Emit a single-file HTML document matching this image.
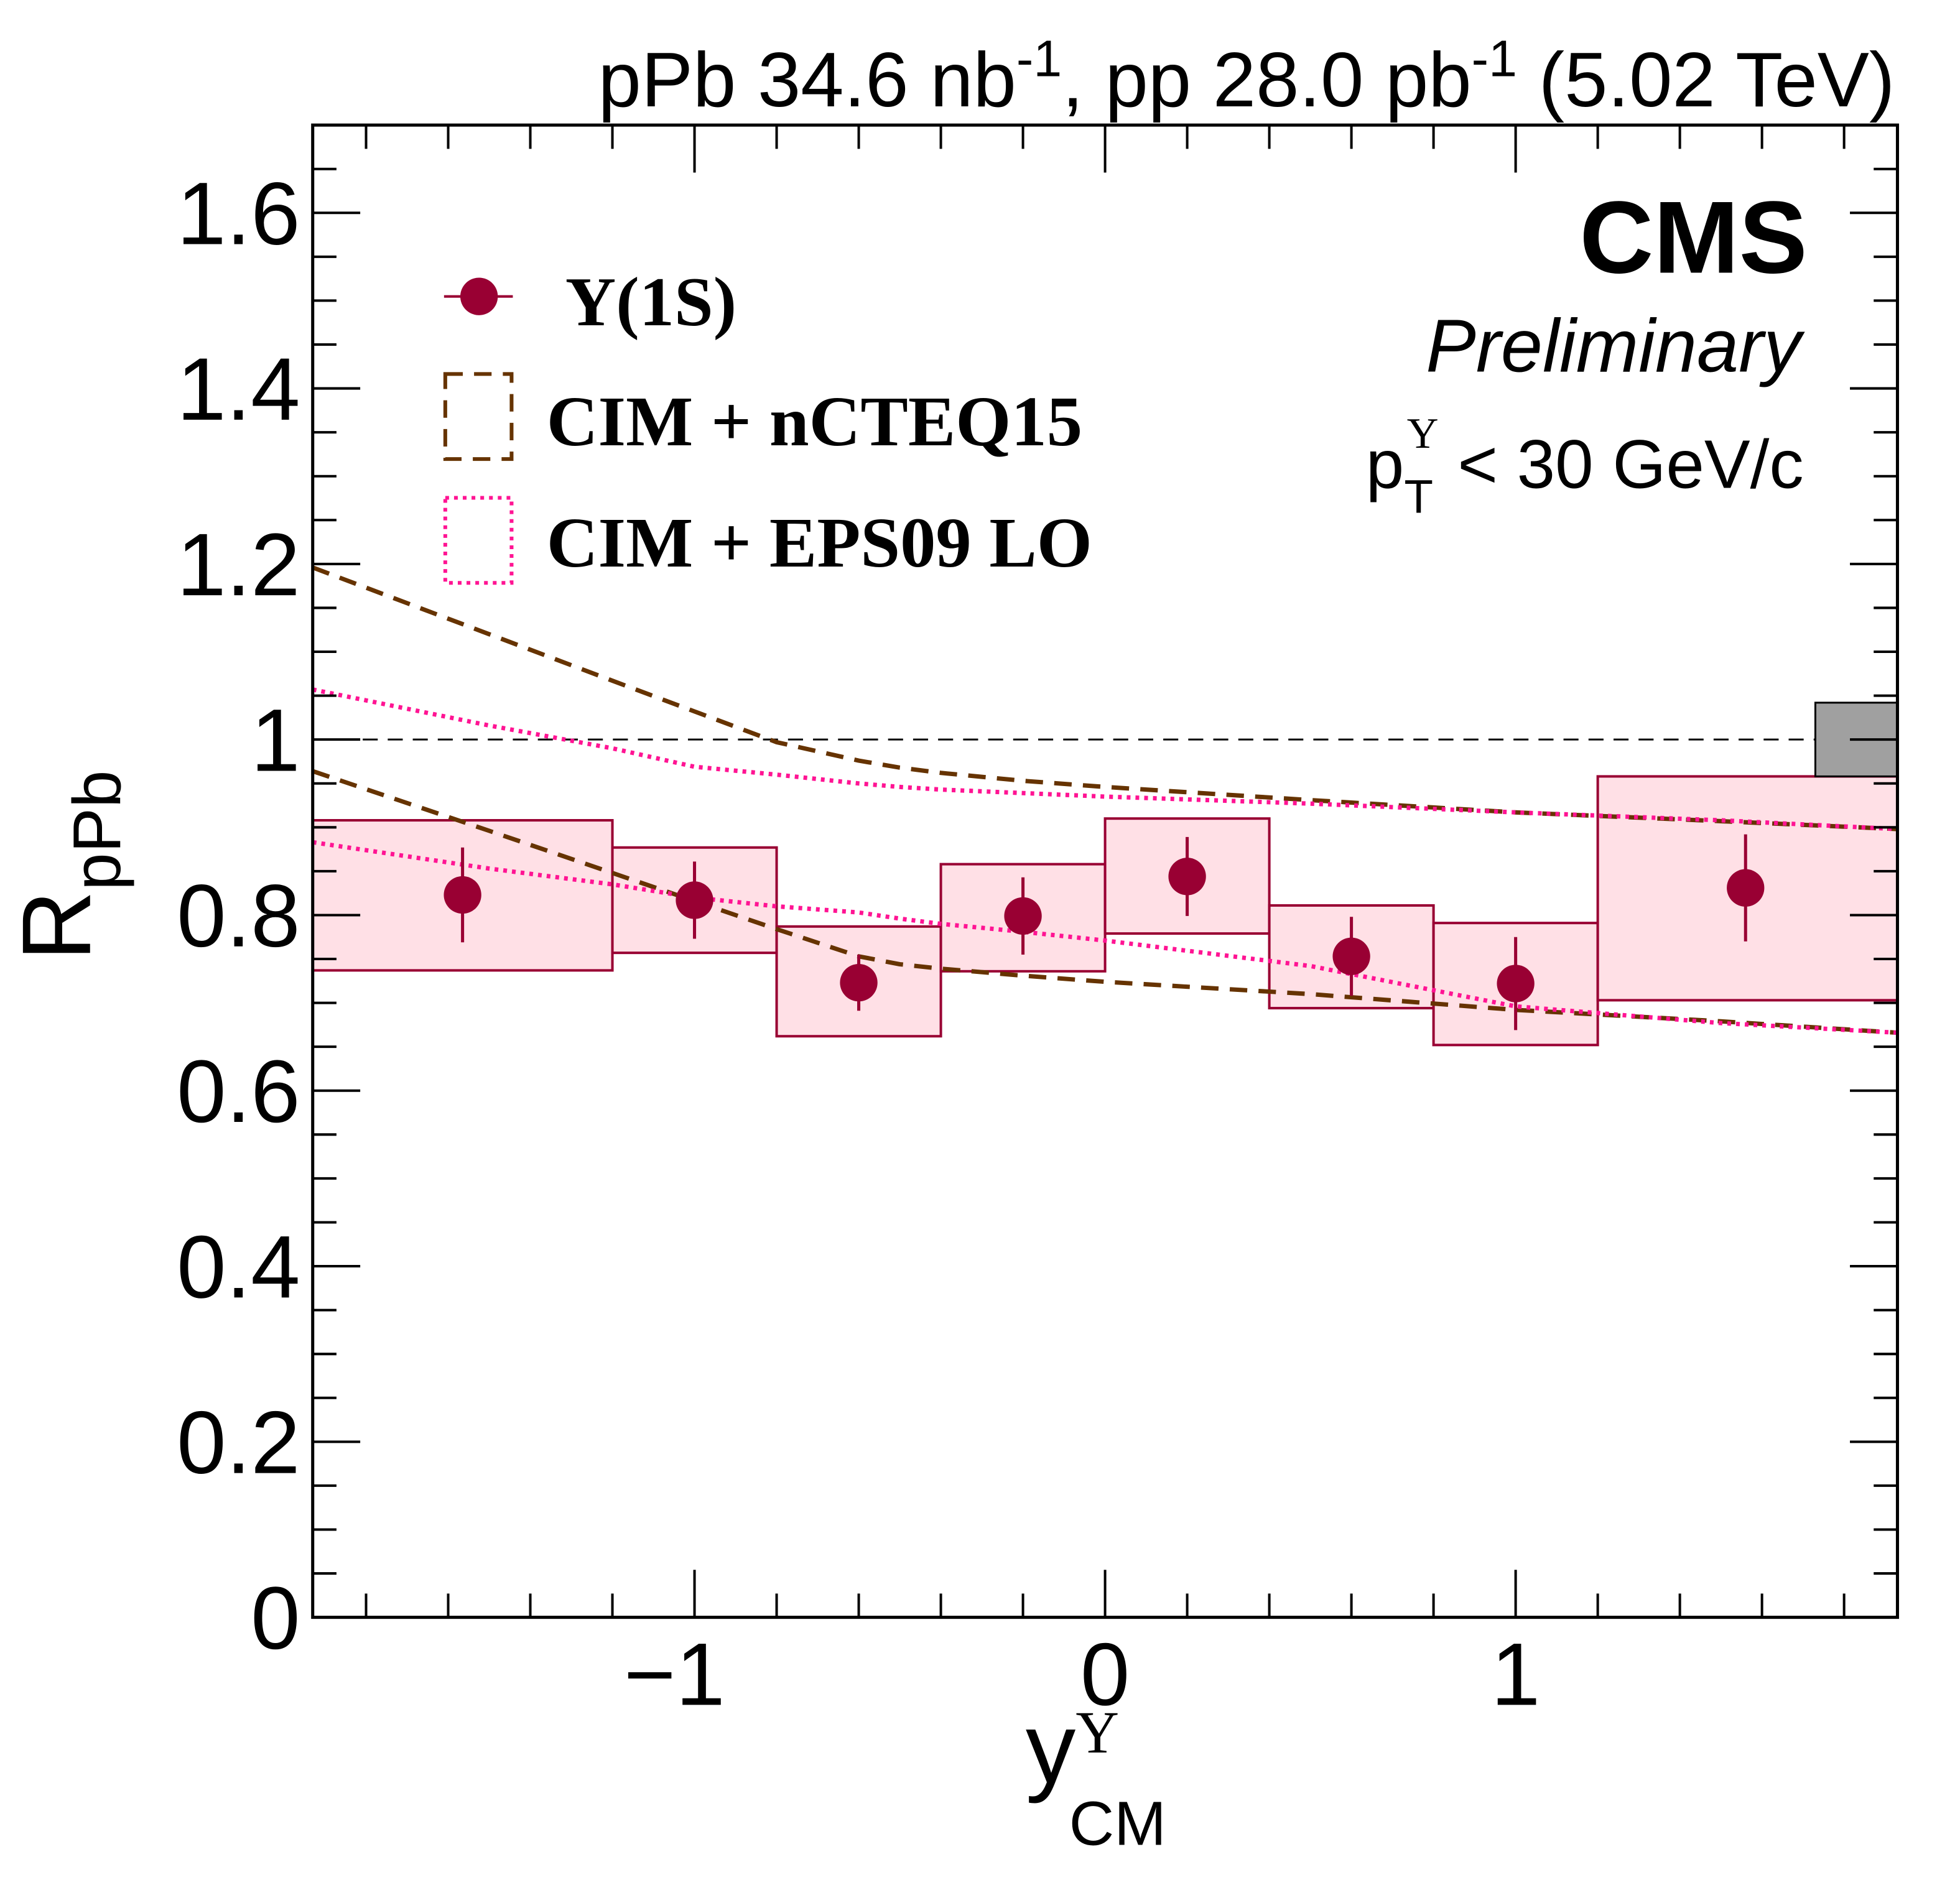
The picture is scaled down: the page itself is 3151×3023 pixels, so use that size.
<!DOCTYPE html>
<html><head><meta charset="utf-8"><style>
html,body{margin:0;padding:0;background:#fff}
svg{display:block}
text{font-family:"Liberation Sans",sans-serif}
</style></head><body>
<svg id="chart" xmlns="http://www.w3.org/2000/svg" width="3151" height="3023" viewBox="0 0 1567 1503" preserveAspectRatio="none">
<g id="boxes"></g>
<g id="curves"></g>
<g id="points"></g>
<g id="axes"></g>
<text x="1515" y="85" text-anchor="end" font-size="62">pPb 34.6 nb<tspan dy="-24" font-size="41">-1</tspan><tspan dy="24">, pp 28.0 pb</tspan><tspan dy="-24" font-size="41">-1</tspan><tspan dy="24"> (5.02 TeV)</tspan></text>
<text x="1445" y="218" text-anchor="end" font-size="82" font-weight="bold">CMS</text>
<text x="1440" y="297" text-anchor="end" font-size="60" font-style="italic">Preliminary</text>
<text x="1442" y="390" text-anchor="end" font-size="55">p<tspan dy="20" font-size="38">T</tspan><tspan dx="-21" dy="-52" font-size="35" style="font-family:'Liberation Serif',serif">Υ</tspan><tspan dy="32"> &lt; 30 GeV/c</tspan></text>
<g>
<line x1="355" y1="237" x2="410" y2="237" stroke="#990033" stroke-width="2"/>
<circle cx="383" cy="237" r="15" fill="#990033"/>
<text x="452" y="260" font-size="56" font-weight="bold" style="font-family:'Liberation Serif',serif">Υ(1S)</text>
<rect x="356" y="299" width="53" height="68" fill="none" stroke="#663300" stroke-width="3" stroke-dasharray="14,9"/>
<text x="437" y="356" font-size="57" font-weight="bold" style="font-family:'Liberation Serif',serif">CIM + nCTEQ15</text>
<rect x="356" y="398" width="53" height="68" fill="none" stroke="#ff1493" stroke-width="3" stroke-dasharray="3,4"/>
<text x="437" y="453" font-size="57" font-weight="bold" style="font-family:'Liberation Serif',serif">CIM + EPS09 LO</text>
</g>
<text transform="translate(72,692) rotate(-90)" text-anchor="middle" font-size="78">R<tspan dy="24" font-size="54">pPb</tspan></text>
<text x="820" y="1425" font-size="80">y<tspan dy="-24" font-size="48" style="font-family:'Liberation Serif',serif">Υ</tspan><tspan dx="-40" dy="74" font-size="50">CM</tspan></text>
</svg>
<script>
const binEdges=[-1.93,-1.2,-0.8,-0.4,0,0.4,0.8,1.2,1.93];
const xPts=[-1.565,-1.0,-0.6,-0.2,0.2,0.6,1.0,1.56];
const vals=[0.823,0.817,0.723,0.799,0.844,0.753,0.722,0.831];
const statErr=[0.054,0.044,0.032,0.044,0.045,0.045,0.053,0.061];
const systHi=[0.908,0.877,0.787,0.858,0.91,0.811,0.791,0.958];
const systLo=[0.737,0.757,0.662,0.736,0.779,0.694,0.652,0.703];
const globalUnc=[0.958,1.042];
const curveX=[-1.93,-1.5,-1.2,-1.0,-0.8,-0.6,-0.5,-0.4,-0.2,0,0.5,1.0,1.5,1.93];
const ncteqHi=[1.196,1.12,1.067,1.032,0.997,0.976,0.968,0.962,0.953,0.946,0.931,0.917,0.907,0.898];
const ncteqLo=[0.964,0.896,0.848,0.816,0.784,0.753,0.744,0.739,0.731,0.724,0.71,0.692,0.679,0.666];
const epsHi=[1.057,1.016,0.99,0.969,0.96,0.95,0.946,0.943,0.939,0.935,0.927,0.917,0.908,0.898];
const epsLo=[0.883,0.853,0.835,0.82,0.81,0.803,0.796,0.79,0.781,0.771,0.742,0.696,0.677,0.666];
const yTicks=[0,0.2,0.4,0.6,0.8,1,1.2,1.4,1.6];
const yTickLabels=["0","0.2","0.4","0.6","0.8","1","1.2","1.4","1.6"];
const xTicks=[-1,0,1];
const xTickLabels=["\u22121","0","1"];
const X0=250,X1=1517,Y0=1293,Y1=100,XMIN=-1.93,XMAX=1.93,YMIN=0,YMAX=1.7;
const sx=v=>X0+(v-XMIN)/(XMAX-XMIN)*(X1-X0);
const sy=v=>Y0-(v-YMIN)/(YMAX-YMIN)*(Y0-Y1);
const NS="http://www.w3.org/2000/svg";
function mk(tag,attrs,parent){const e=document.createElementNS(NS,tag);for(const k in attrs)e.setAttribute(k,attrs[k]);parent.appendChild(e);return e;}
const boxes=document.getElementById('boxes'),curves=document.getElementById('curves'),points=document.getElementById('points'),axes=document.getElementById('axes');
let ref=mk('line',{x1:X0,x2:X1,y1:sy(1),y2:sy(1),stroke:'#000','stroke-width':1.5,'stroke-dasharray':'12,8'},boxes);


for(let i=0;i<vals.length;i++){
 const r=mk('rect',{x:sx(binEdges[i]),y:sy(systHi[i]),width:sx(binEdges[i+1])-sx(binEdges[i]),height:sy(systLo[i])-sy(systHi[i]),fill:'#ffe0e6',stroke:'#990033','stroke-width':2},boxes);
 
 
}
let g=mk('rect',{x:sx(1.73),y:sy(globalUnc[1]),width:X1-sx(1.73),height:sy(globalUnc[0])-sy(globalUnc[1]),fill:'#a0a0a0',stroke:'#000','stroke-width':1.5},boxes);


function curve(ys,color,dash,name){
 const d=curveX.map((x,i)=>(i?'L':'M')+sx(x)+','+sy(ys[i])).join(' ');
 const p=mk('path',{d:d,fill:'none',stroke:color,'stroke-width':3.5,'stroke-dasharray':dash,'stroke-linejoin':'round'},curves);
 
 
}
curve(ncteqHi,'#663300','14,9','ncteq-upper-curve');
curve(ncteqLo,'#663300','14,9','ncteq-lower-curve');
curve(epsHi,'#ff1493','3,4','eps09-upper-curve');
curve(epsLo,'#ff1493','3,4','eps09-lower-curve');
for(let i=0;i<vals.length;i++){
 const l=mk('line',{x1:sx(xPts[i]),x2:sx(xPts[i]),y1:sy(vals[i]+statErr[i]),y2:sy(vals[i]-statErr[i]),stroke:'#990033','stroke-width':2.5},points);
 
 
 const c=mk('circle',{cx:sx(xPts[i]),cy:sy(vals[i]),r:15,fill:'#990033'},points);
 
 
}
let fr=mk('rect',{x:X0,y:Y1,width:X1-X0,height:Y0-Y1,fill:'none',stroke:'#000','stroke-width':2.5},axes);


for(let v=0;v<=1.7001;v+=0.05){
 const major=Math.abs(v/0.2-Math.round(v/0.2))<1e-6;const L=major?38:19;
 mk('line',{x1:X0,x2:X0+L,y1:sy(v),y2:sy(v),stroke:'#000','stroke-width':2},axes);
 mk('line',{x1:X1,x2:X1-L,y1:sy(v),y2:sy(v),stroke:'#000','stroke-width':2},axes);
}
for(let k=-9;k<=9;k++){const v=k*0.2;if(v<XMIN||v>XMAX)continue;
 const major=k%5===0;const L=major?38:19;
 mk('line',{x1:sx(v),x2:sx(v),y1:Y0,y2:Y0-L,stroke:'#000','stroke-width':2},axes);
 mk('line',{x1:sx(v),x2:sx(v),y1:Y1,y2:Y1+L,stroke:'#000','stroke-width':2},axes);
}
yTicks.forEach((v,i)=>{const t=mk('text',{x:X0-10,y:sy(v)+25,'text-anchor':'end','font-size':71},axes);t.textContent=yTickLabels[i];
 
 });
xTicks.forEach((v,i)=>{const t=mk('text',{x:sx(v)-(v<0?16:0),y:Y0+70,'text-anchor':'middle','font-size':71},axes);t.textContent=xTickLabels[i];
 
 });
</script>
</body></html>
